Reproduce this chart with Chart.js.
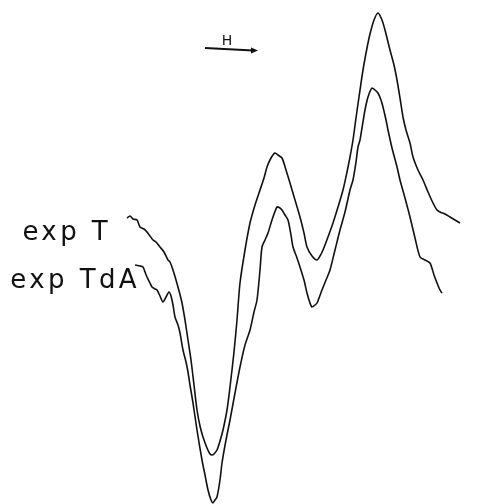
<!DOCTYPE html>
<html>
<head>
<meta charset="utf-8">
<script src="https://cdn.jsdelivr.net/npm/chart.js@4.4.0/dist/chart.umd.min.js"></script>
<style>
  html, body { margin: 0; padding: 0; background: #fff; }
  #wrap { width: 492px; height: 504px; }
</style>
</head>
<body>
<div id="wrap"><canvas id="epr" width="492" height="504"></canvas></div>
<script>
// field (arb. units) and derivative signal (arb. units)
let fieldT = [127,130,133,137,140,144,147,150,153,156,160,164,168,170,173,178,182,185,188,191,194,197,200,203,207,210,212,214,217,220,223,227,230,234,237,240,245,250,255,260,264,267,271,275,278,282,286,290,295,300,304,307,312,317,320,323,328,333,338,343,347,350,353,356,359,363,367,370,374,378,382,385,390,394,397,400,403,406,410,413,418,423,428,433,437,440,445,450,455,460];
let signalT = [82,84,81,80,73,71,68,64,60,58,53,48,40,38,30,13,-3,-20,-40,-60,-85,-110,-126,-137,-148,-154,-155,-154,-150,-141,-130,-110,-87,-52,-20,17,50,77,95,110,122,133,142,147,145,142,130,117,100,83,67,53,44,40,44,50,63,77,93,110,128,143,160,182,203,230,252,266,280,287,280,270,250,235,220,202,183,170,157,143,130,120,108,97,90,88,86,83,80,77];

let fieldTdA = [135,140,143,145,147,150,152,155,157,160,163,166,169,171,173,175,178,180,183,186,188,190,193,197,202,205,208,211,213,215,217,220,222,226,230,235,240,245,250,254,257,260,262,265,268,272,277,280,282,285,288,291,293,297,300,304,307,310,312,315,317,322,326,330,335,340,345,350,353,356,358,360,362,365,368,372,375,378,381,383,386,388,392,397,400,405,410,415,420,425,430,434,437,440,442];
let signalTdA = [35,34,33,28,23,17,13,11,10,4,-2,3,8,4,-5,-17,-25,-33,-50,-62,-72,-85,-103,-130,-160,-175,-190,-200,-203,-200,-197,-180,-163,-140,-120,-93,-67,-45,-30,-12,0,30,53,60,67,80,93,92,90,85,80,65,53,42,33,20,7,-3,-7,-5,-3,10,20,30,50,70,88,110,120,138,153,160,172,190,203,212,210,207,200,193,180,170,152,133,120,102,83,62,43,40,37,25,17,10,7];

let seriesNames = ['exp T', 'exp TdA'];

function pts(xs, ys) {
  return xs.map((x, i) => ({ x: x, y: ys[i] }));
}

// labels and the field arrow, placed in data units
let annot = {
  id: 'annot',
  afterDatasetsDraw(chart) {
    let ctx = chart.ctx;
    let xs = chart.scales.x, ys = chart.scales.y;
    ctx.save();
    ctx.fillStyle = '#111';
    ctx.font = '26px "DejaVu Sans"';
    ctx.letterSpacing = '3.4px';
    ctx.textAlign = 'right';
    ctx.textBaseline = 'alphabetic';
    ctx.fillText(seriesNames[0], xs.getPixelForValue(111), ys.getPixelForValue(60));
    ctx.fillText(seriesNames[1], xs.getPixelForValue(140), ys.getPixelForValue(12));

    // H arrow
    let x0 = xs.getPixelForValue(205), y0 = ys.getPixelForValue(252);
    let x1 = xs.getPixelForValue(256), y1 = ys.getPixelForValue(249.5);
    ctx.strokeStyle = '#111';
    ctx.lineWidth = 1.8;
    ctx.beginPath();
    ctx.moveTo(x0, y0);
    ctx.lineTo(x1 - 3, y1);
    ctx.stroke();
    ctx.beginPath();
    ctx.moveTo(x1 + 2, y1);
    ctx.lineTo(x1 - 5, y1 - 3);
    ctx.lineTo(x1 - 5, y1 + 3);
    ctx.closePath();
    ctx.fill();
    ctx.letterSpacing = '0px';
    ctx.font = '14px "DejaVu Sans"';
    ctx.textAlign = 'center';
    ctx.fillText('H', xs.getPixelForValue(227), ys.getPixelForValue(255));
    ctx.restore();
  }
};

let ctx = document.getElementById('epr').getContext('2d');
let eprChart = new Chart(ctx, {
  type: 'scatter',
  data: {
    datasets: [
      { label: seriesNames[0], data: pts(fieldT, signalT) },
      { label: seriesNames[1], data: pts(fieldTdA, signalTdA) }
    ]
  },
  options: {
    responsive: false,
    animation: false,
    showLine: true,
    layout: { padding: 0 },
    elements: {
      point: { radius: 0 },
      line: { borderColor: '#111', borderWidth: 1.6, tension: 0.25, fill: false }
    },
    scales: {
      x: { type: 'linear', display: false, min: 0, max: 492 },
      y: { type: 'linear', display: false, min: -204, max: 300 }
    },
    plugins: {
      legend: { display: false },
      tooltip: { enabled: false }
    }
  },
  plugins: [annot]
});
</script>
</body>
</html>
